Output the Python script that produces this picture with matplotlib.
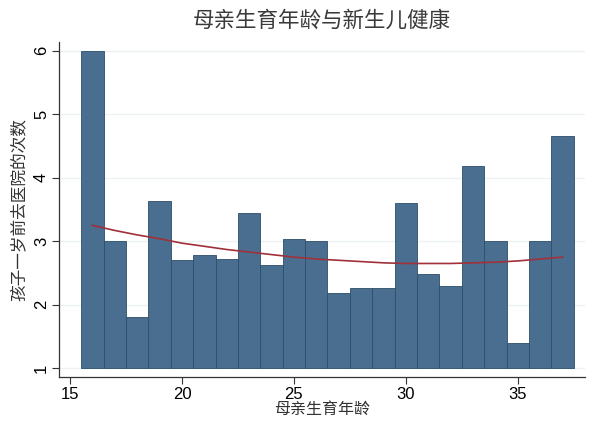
import matplotlib
matplotlib.use("Agg")
import matplotlib.pyplot as plt
import numpy as np

plt.rcParams['font.family'] = ['Noto Sans CJK SC', 'DejaVu Sans']

# 母亲生育年龄 与 孩子一岁前去医院的平均次数
ages = [16, 17, 18, 19, 20, 21, 22, 23, 24, 25, 26,
        27, 28, 29, 30, 31, 32, 33, 34, 35, 36, 37]
visits = [6.00, 3.00, 1.81, 3.64, 2.70, 2.78, 2.72, 3.44, 2.62, 3.04, 3.00,
          2.19, 2.27, 2.26, 3.60, 2.48, 2.30, 4.18, 3.00, 1.39, 3.00, 4.66]

# 二次拟合线
fit_ages = ages
fit_visits = [3.25, 3.17, 3.10, 3.04, 2.97, 2.92, 2.87, 2.83, 2.79, 2.75, 2.72,
              2.70, 2.68, 2.66, 2.65, 2.65, 2.65, 2.66, 2.67, 2.69, 2.72, 2.75]

xticks = [15, 20, 25, 30, 35]
yticks = [1, 2, 3, 4, 5, 6]

fig = plt.figure(figsize=(6.0, 4.36), dpi=100)
ax = fig.add_axes([0.098, 0.135, 0.877, 0.769])

ax.bar(ages, np.array(visits) - 1, bottom=1, width=1.0, color='#4a6e8f',
       edgecolor='#2e4d69', linewidth=0.6, zorder=2)
ax.plot(fit_ages, fit_visits, color='#a0303a', linewidth=1.2, zorder=3)

ax.set_xlim(14.5, 38.0)
ax.set_ylim(0.86, 6.14)
ax.set_xticks(xticks)
ax.set_yticks(yticks)
ax.grid(axis='y', color='#eef1f1', linewidth=1.0, zorder=0)

for side in ['top', 'right']:
    ax.spines[side].set_visible(False)
for side in ['left', 'bottom']:
    ax.spines[side].set_color('#333333')
    ax.spines[side].set_linewidth(0.9)

ax.tick_params(axis='both', direction='out', length=5, width=0.8, color='#333333', pad=2)
for lab in ax.get_xticklabels():
    lab.set_fontfamily(['Liberation Sans', 'DejaVu Sans'])
    lab.set_fontsize(12)
for lab in ax.get_yticklabels():
    lab.set_fontfamily(['Liberation Sans', 'DejaVu Sans'])
    lab.set_fontsize(12)
    lab.set_rotation(90)
    lab.set_verticalalignment('center')

ax.set_title('母亲生育年龄与新生儿健康', fontsize=15.5, color='#3a3a3a', pad=11)
ax.set_xlabel('母亲生育年龄', fontsize=11.5, color='#333333', labelpad=-1)
ax.set_ylabel('孩子一岁前去医院的次数', fontsize=12, color='#333333', labelpad=5)

fig.savefig('out.png', dpi=100)
